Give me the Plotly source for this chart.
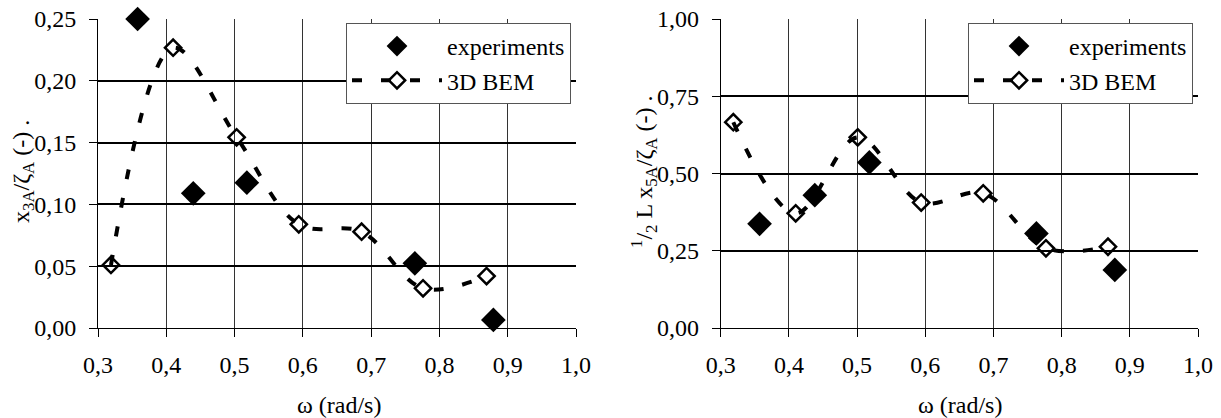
import plotly.graph_objects as go

# Left chart: heave x3A/zetaA
w_exp_heave = [0.358, 0.4395, 0.518, 0.764, 0.879]
exp_heave = [0.250, 0.109, 0.1176, 0.0523, 0.0065]
w_bem_heave = [0.319, 0.410, 0.503, 0.594, 0.686, 0.776, 0.869]
bem_heave = [0.051, 0.2268, 0.1543, 0.0839, 0.0779, 0.0321, 0.042]

# Right chart: pitch 1/2 L x5A/zetaA
w_exp_pitch = [0.357, 0.438, 0.518, 0.763, 0.878]
exp_pitch = [0.337, 0.430, 0.536, 0.306, 0.188]
w_bem_pitch = [0.3185, 0.410, 0.501, 0.594, 0.685, 0.777, 0.868]
bem_pitch = [0.666, 0.371, 0.617, 0.406, 0.436, 0.258, 0.263]

x_ticks = [0.3, 0.4, 0.5, 0.6, 0.7, 0.8, 0.9, 1.0]
x_ticklabels = ["0,3", "0,4", "0,5", "0,6", "0,7", "0,8", "0,9", "1,0"]
y1_ticks = [0.00, 0.05, 0.10, 0.15, 0.20, 0.25]
y1_ticklabels = ["0,00", "0,05", "0,10", "0,15", "0,20", "0,25"]
y2_ticks = [0.00, 0.25, 0.50, 0.75, 1.00]
y2_ticklabels = ["0,00", "0,25", "0,50", "0,75", "1,00"]

FONT = "Liberation Serif, Times New Roman, Times, serif"
FS = 24
W, H = 1221, 418

fig = go.Figure()

def add_pair(xa, ya, w_exp, v_exp, w_bem, v_bem, legend):
    fig.add_trace(go.Scatter(
        x=w_bem, y=v_bem, mode="lines+markers", name="3D BEM",
        xaxis=xa, yaxis=ya, legend=legend, cliponaxis=False,
        line=dict(color="black", width=4, dash="10px,19px", shape="spline", smoothing=1),
        marker=dict(symbol="diamond-open", size=12.5, color="black", line=dict(width=2.5, color="black")),
        legendrank=2,
    ))
    fig.add_trace(go.Scatter(
        x=w_exp, y=v_exp, mode="markers", name="experiments",
        xaxis=xa, yaxis=ya, legend=legend, cliponaxis=False,
        marker=dict(symbol="diamond", size=19, color="black"),
        legendrank=1,
    ))

add_pair("x", "y", w_exp_heave, exp_heave, w_bem_heave, bem_heave, "legend")
add_pair("x2", "y2", w_exp_pitch, exp_pitch, w_bem_pitch, bem_pitch, "legend2")

def px_x(p):
    return p / W

def px_y(p):
    return 1 - p / H

yd = [px_y(328), px_y(19)]

xaxis_common = dict(
    range=[0.3, 1.0], tickvals=x_ticks, ticktext=x_ticklabels,
    showgrid=True, gridcolor="#333333", gridwidth=1,
    showline=True, linecolor="black", linewidth=1,
    ticks="outside", ticklen=8, tickcolor="black", tickwidth=1,
    ticklabelstandoff=7,
    zeroline=False, tickfont=dict(family=FONT, size=FS, color="black"),
    fixedrange=True, automargin=False,
)
yaxis_common = dict(
    showgrid=True, gridcolor="black", gridwidth=2.2,
    showline=True, linecolor="black", linewidth=1,
    ticks="outside", ticklen=8, tickcolor="black", tickwidth=1,
    ticklabelstandoff=8,
    zeroline=False, tickfont=dict(family=FONT, size=FS, color="black"),
    fixedrange=True, automargin=False,
)

fig.update_layout(
    width=W, height=H,
    margin=dict(l=0, r=0, t=0, b=0, autoexpand=False),
    paper_bgcolor="white", plot_bgcolor="white",
    font=dict(family=FONT, size=FS, color="black"),
    xaxis=dict(domain=[px_x(98), px_x(576)], anchor="y", **xaxis_common),
    yaxis=dict(domain=yd, anchor="x", range=[0, 0.25], tickvals=y1_ticks, ticktext=y1_ticklabels, **yaxis_common),
    xaxis2=dict(domain=[px_x(720.7), px_x(1198)], anchor="y2", **xaxis_common),
    yaxis2=dict(domain=yd, anchor="x2", range=[0, 1.0], tickvals=y2_ticks, ticktext=y2_ticklabels, **yaxis_common),
    legend=dict(x=px_x(571), y=px_y(23), xanchor="right", yanchor="top",
                bgcolor="white", bordercolor="#555555", borderwidth=1,
                font=dict(family=FONT, size=FS, color="black"),
                itemwidth=90, traceorder="normal"),
    legend2=dict(x=px_x(1193), y=px_y(23), xanchor="right", yanchor="top",
                 bgcolor="white", bordercolor="#555555", borderwidth=1,
                 font=dict(family=FONT, size=FS, color="black"),
                 itemwidth=90, traceorder="normal"),
    showlegend=True,
)

annotations = [
    dict(text="ω (rad/s)", x=px_x(339), y=px_y(405), xref="paper", yref="paper",
         xanchor="center", yanchor="middle",
         showarrow=False, font=dict(family=FONT, size=FS, color="black")),
    dict(text="ω (rad/s)", x=px_x(960), y=px_y(405), xref="paper", yref="paper",
         xanchor="center", yanchor="middle",
         showarrow=False, font=dict(family=FONT, size=FS, color="black")),
    dict(text="x<sub>3A</sub>/ζ<sub>A</sub> (-) .", x=px_x(23), y=px_y(172), xref="paper", yref="paper",
         xanchor="center", yanchor="middle",
         showarrow=False, textangle=-90, font=dict(family=FONT, size=FS, color="black")),
    dict(text="<sup>1</sup>/<sub>2</sub> L x<sub>5A</sub>/ζ<sub>A</sub> (-) .", x=px_x(644), y=px_y(172),
         xref="paper", yref="paper", xanchor="center", yanchor="middle",
         showarrow=False, textangle=-90, font=dict(family=FONT, size=FS, color="black")),
]
fig.update_layout(annotations=annotations)

fig.write_html("out.html", config={"displayModeBar": False},
               post_script="document.body.style.margin='0';")
